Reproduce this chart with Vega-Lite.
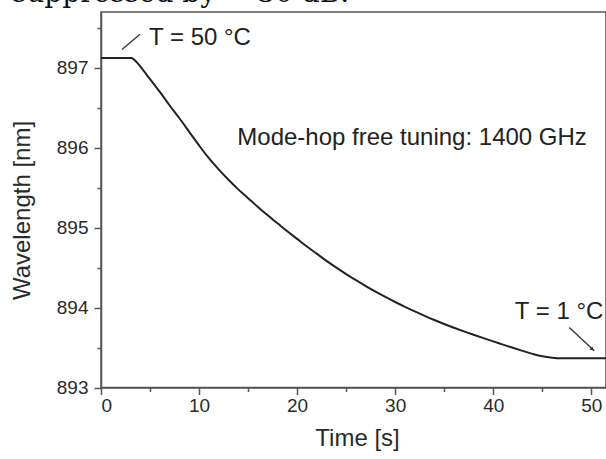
{
  "$schema": "https://vega.github.io/schema/vega-lite/v6.json",
  "autosize": "none",
  "width": 505,
  "height": 375.5,
  "padding": {"left": 101, "top": 12, "right": 0, "bottom": 71.5},
  "background": "white",
  "config": {
    "view": {"stroke": "#555", "strokeWidth": 1.5},
    "axis": {
      "grid": false,
      "domainColor": "#555",
      "domainWidth": 1.5,
      "tickColor": "#555",
      "tickWidth": 1.5,
      "labelColor": "#2a2a2a",
      "labelFont": "Liberation Sans",
      "labelFontSize": 19,
      "labelFontWeight": "normal",
      "titleColor": "#2a2a2a",
      "titleFont": "Liberation Sans",
      "titleFontSize": 24,
      "titleFontWeight": "normal",
      "labelOverlap": false
    }
  },
  "datasets": {
    "curve": [
      {"t": 0, "w": 897.125},
      {"t": 3.1, "w": 897.125},
      {"t": 3.5, "w": 897.09},
      {"t": 4, "w": 897.02},
      {"t": 5, "w": 896.86},
      {"t": 6, "w": 896.7},
      {"t": 7, "w": 896.53},
      {"t": 8, "w": 896.37},
      {"t": 9, "w": 896.2},
      {"t": 10, "w": 896.03},
      {"t": 11, "w": 895.87},
      {"t": 12, "w": 895.73},
      {"t": 13, "w": 895.6},
      {"t": 14, "w": 895.48},
      {"t": 15, "w": 895.37},
      {"t": 16, "w": 895.26},
      {"t": 17, "w": 895.155},
      {"t": 18, "w": 895.055},
      {"t": 19, "w": 894.955},
      {"t": 20, "w": 894.86},
      {"t": 21, "w": 894.765},
      {"t": 22, "w": 894.675},
      {"t": 23, "w": 894.585},
      {"t": 24, "w": 894.5},
      {"t": 25, "w": 894.42},
      {"t": 26, "w": 894.343},
      {"t": 27, "w": 894.27},
      {"t": 28, "w": 894.2},
      {"t": 29, "w": 894.133},
      {"t": 30, "w": 894.07},
      {"t": 31, "w": 894.01},
      {"t": 32, "w": 893.952},
      {"t": 33, "w": 893.897},
      {"t": 34, "w": 893.845},
      {"t": 35, "w": 893.795},
      {"t": 36, "w": 893.748},
      {"t": 37, "w": 893.703},
      {"t": 38, "w": 893.66},
      {"t": 39, "w": 893.618},
      {"t": 40, "w": 893.577},
      {"t": 41, "w": 893.537},
      {"t": 42, "w": 893.497},
      {"t": 43, "w": 893.458},
      {"t": 44, "w": 893.421},
      {"t": 45, "w": 893.39},
      {"t": 46, "w": 893.372},
      {"t": 47, "w": 893.365},
      {"t": 51.5, "w": 893.365}
    ],
    "labels": [
      {"t": 4.9, "w": 897.38, "label": "T = 50 °C"},
      {"t": 13.9, "w": 896.12, "label": "Mode-hop free tuning: 1400 GHz"},
      {"t": 42.2, "w": 893.95, "label": "T = 1 °C"}
    ],
    "arrows": [
      {"t": 3.98, "w": 897.42, "t2": 2.14, "w2": 897.23},
      {"t": 47.76, "w": 893.75, "t2": 50.3, "w2": 893.46}
    ],
    "heads": [
      {"t": 50.1, "w": 893.48}
    ],
    "clipped": [
      {"t": -9.08, "w": 897.83, "label": "suppressed by ~ 30 dB."}
    ]
  },
  "layer": [
    {
      "data": {"name": "curve"},
      "mark": {"type": "line", "color": "#222", "strokeWidth": 2, "interpolate": "monotone"},
      "encoding": {
        "x": {
          "field": "t", "type": "quantitative",
          "scale": {"domain": [0, 51.5], "nice": false, "zero": false},
          "axis": {
            "title": "Time [s]",
            "values": [0, 5, 10, 15, 20, 25, 30, 35, 40, 45, 50],
            "labelExpr": "datum.value % 10 === 0 ? format(datum.value, 'd') : ''",
            "tickSize": {"condition": {"test": "datum.value % 10 === 0", "value": 7}, "value": 4},
            "labelPadding": 2,
            "titlePadding": 11,
            "titleX": 256
          }
        },
        "y": {
          "field": "w", "type": "quantitative",
          "scale": {"domain": [893, 897.7], "nice": false, "zero": false},
          "axis": {
            "title": "Wavelength [nm]",
            "values": [893, 893.5, 894, 894.5, 895, 895.5, 896, 896.5, 897, 897.5],
            "labelExpr": "datum.value % 1 === 0 ? format(datum.value, 'd') : ''",
            "tickSize": {"condition": {"test": "datum.value % 1 === 0", "value": 7}, "value": 4},
            "labelPadding": 6,
            "titleX": -79,
            "titleY": 198,
            "titleAngle": -90,
            "titleAlign": "center",
            "titleBaseline": "middle"
          }
        }
      }
    },
    {
      "data": {"name": "labels"},
      "mark": {"type": "text", "align": "left", "baseline": "middle", "font": "Liberation Sans", "fontSize": 24, "color": "#222"},
      "encoding": {
        "x": {"field": "t", "type": "quantitative"},
        "y": {"field": "w", "type": "quantitative"},
        "text": {"field": "label"}
      }
    },
    {
      "data": {"name": "arrows"},
      "mark": {"type": "rule", "color": "#333", "strokeWidth": 1.3},
      "encoding": {
        "x": {"field": "t", "type": "quantitative"},
        "y": {"field": "w", "type": "quantitative"},
        "x2": {"field": "t2"},
        "y2": {"field": "w2"}
      }
    },
    {
      "data": {"name": "heads"},
      "mark": {"type": "point", "shape": "triangle-up", "filled": true, "color": "#333", "size": 18, "angle": 133, "opacity": 1},
      "encoding": {
        "x": {"field": "t", "type": "quantitative"},
        "y": {"field": "w", "type": "quantitative"}
      }
    },
    {
      "data": {"name": "clipped"},
      "mark": {"type": "text", "align": "left", "baseline": "alphabetic", "font": "DejaVu Serif", "fontSize": 28, "color": "#111"},
      "encoding": {
        "x": {"field": "t", "type": "quantitative"},
        "y": {"field": "w", "type": "quantitative"},
        "text": {"field": "label"}
      }
    }
  ]
}
